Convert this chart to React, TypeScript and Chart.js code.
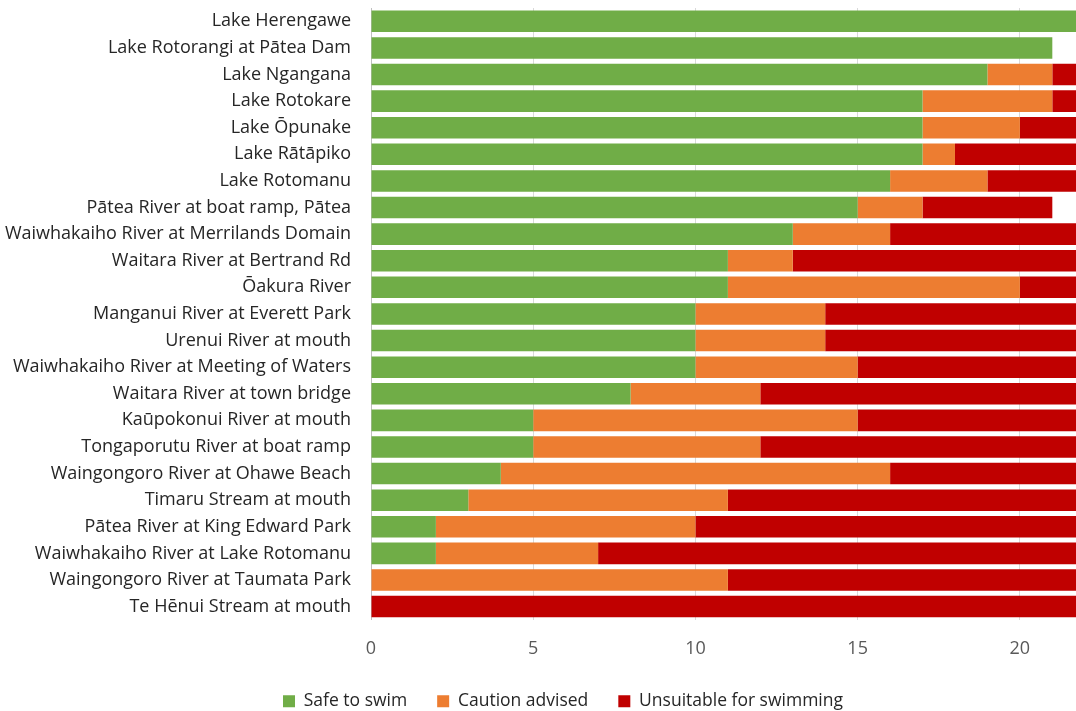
import React, { useEffect, useRef } from "react";
import { Chart, registerables } from "chart.js";

Chart.register(...registerables);

const categories = [
  "Lake Herengawe",
  "Lake Rotorangi at Pātea Dam",
  "Lake Ngangana",
  "Lake Rotokare",
  "Lake Ōpunake",
  "Lake Rātāpiko",
  "Lake Rotomanu",
  "Pātea River at boat ramp, Pātea",
  "Waiwhakaiho River at Merrilands Domain",
  "Waitara River at Bertrand Rd",
  "Ōakura River",
  "Manganui River at Everett Park",
  "Urenui River at mouth",
  "Waiwhakaiho River at Meeting of Waters",
  "Waitara River at town bridge",
  "Kaūpokonui River at mouth",
  "Tongaporutu River at boat ramp",
  "Waingongoro River at Ohawe Beach",
  "Timaru Stream at mouth",
  "Pātea River at King Edward Park",
  "Waiwhakaiho River at Lake Rotomanu",
  "Waingongoro River at Taumata Park",
  "Te Hēnui Stream at mouth",
];

const safeToSwim = [22, 21, 19, 17, 17, 17, 16, 15, 13, 11, 11, 10, 10, 10, 8, 5, 5, 4, 3, 2, 2, 0, 0];
const cautionAdvised = [0, 0, 2, 4, 3, 1, 3, 2, 3, 2, 9, 4, 4, 5, 4, 10, 7, 12, 8, 8, 5, 11, 0];
const unsuitable = [0, 0, 1, 1, 2, 4, 3, 4, 6, 9, 2, 8, 8, 7, 10, 7, 10, 6, 11, 12, 15, 11, 22];

const seriesNames = ["Safe to swim", "Caution advised", "Unsuitable for swimming"];
const seriesColors = ["#70AD47", "#ED7D31", "#C00000"];
const xTickValues = [0, 5, 10, 15, 20];
const xMax = 21.73;

export default function App() {
  const canvasRef = useRef<HTMLCanvasElement | null>(null);

  useEffect(() => {
    document.body.style.margin = "0";
    const canvas = canvasRef.current;
    if (!canvas) return;
    const font = "'Open Sans', 'Noto Sans', sans-serif";
    const legendShift = {
      id: "legendShift",
      afterLayout(chart: any) {
        const lg = chart.legend;
        if (lg) {
          lg.left += 25;
          lg.right += 25;
          lg.top -= 15;
          lg.bottom -= 15;
        }
      },
    };
    const chart = new Chart(canvas, {
      type: "bar",
      data: {
        labels: categories,
        datasets: [safeToSwim, cautionAdvised, unsuitable].map((d, i) => ({
          label: seriesNames[i],
          data: d,
          backgroundColor: seriesColors[i],
          borderWidth: 0,
          barPercentage: 0.9,
          categoryPercentage: 0.9,
        })),
      },
      plugins: [legendShift],
      options: {
        indexAxis: "y",
        responsive: false,
        animation: false,
        layout: { padding: { top: 8, right: 0, left: 0, bottom: -24 } },
        plugins: {
          legend: {
            position: "bottom",
            labels: {
              font: { family: font, size: 17.5 },
              color: "#262626",
              boxWidth: 12,
              boxHeight: 12,
              padding: 30,
            },
          },
          tooltip: { enabled: false },
        },
        scales: {
          x: {
            stacked: true,
            min: 0,
            max: xMax,
            afterBuildTicks: (scale: any) => {
              scale.ticks = xTickValues.map((v) => ({ value: v }));
            },
            grid: { color: "#D9D9D9", drawTicks: false },
            border: { display: false },
            ticks: {
              font: { family: font, size: 18 },
              color: "#595959",
              padding: 18,
            },
          },
          y: {
            stacked: true,
            grid: { display: false, drawTicks: false },
            border: { display: true, color: "#BFBFBF" },
            afterFit: (scale: any) => {
              scale.width = 371;
              scale.paddingTop = 0;
              scale.paddingBottom = 0;
            },
            ticks: {
              font: { family: font, size: 18 },
              color: "#262626",
              padding: 20,
              autoSkip: false,
            },
          },
        },
      },
    });
    return () => chart.destroy();
  }, []);

  return <canvas ref={canvasRef} width={1076} height={711} style={{ display: "block" }} />;
}
